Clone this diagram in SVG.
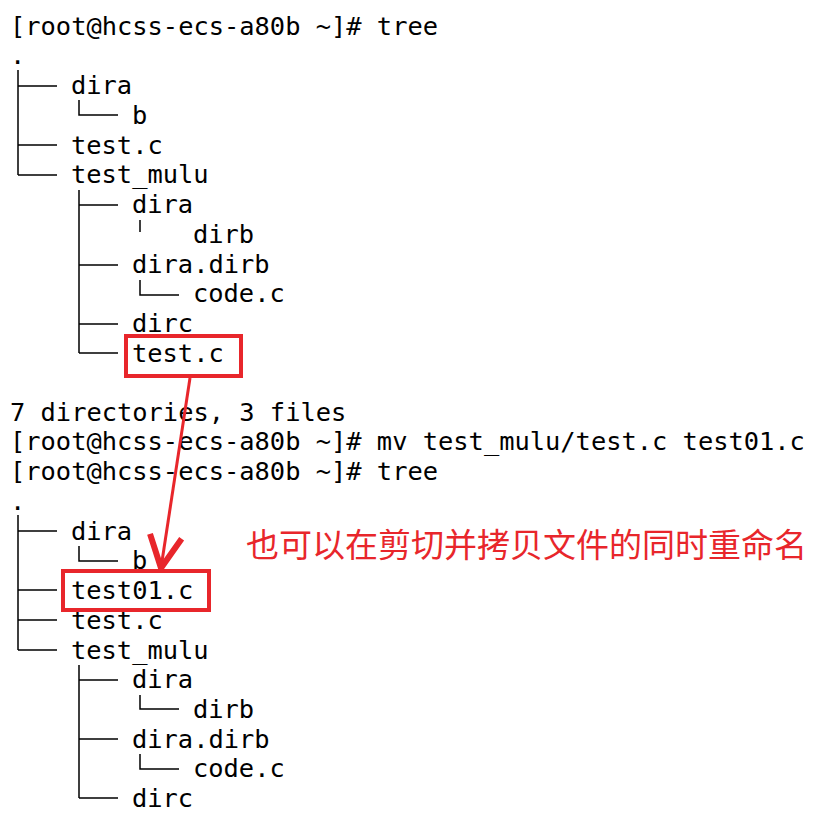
<svg xmlns="http://www.w3.org/2000/svg" width="824" height="818" viewBox="0 0 824 818">
<style>
text.t{font-family:"DejaVu Sans Mono",monospace;font-size:25.4px;fill:#000}
.l{stroke:#000;stroke-width:1.5;fill:none}
.box{stroke:#e8262b;stroke-width:4;fill:none}
</style>
<defs><marker id="ah" markerWidth="40" markerHeight="40" refX="18" refY="10" orient="auto" markerUnits="userSpaceOnUse" viewBox="0 0 20 20"><path d="M2,2 L18,10 L2,18" fill="none" stroke="#e8262b" stroke-width="3"/></marker></defs>
<rect width="824" height="818" fill="#fff"/>
<g id="text1">
<text class="t" x="10" y="35">[root@hcss-ecs-a80b ~]# tree</text>
<text class="t" x="10" y="64">.</text>
<text class="t" x="71" y="94">dira</text>
<text class="t" x="132" y="124">b</text>
<text class="t" x="71" y="154">test.c</text>
<text class="t" x="71" y="183">test_mulu</text>
<text class="t" x="132" y="213">dira</text>
<text class="t" x="193" y="243">dirb</text>
<text class="t" x="132" y="273">dira.dirb</text>
<text class="t" x="193" y="302">code.c</text>
<text class="t" x="132" y="332">dirc</text>
<text class="t" x="132" y="362">test.c</text>
<text class="t" x="10" y="421">7 directories, 3 files</text>
<text class="t" x="10" y="450">[root@hcss-ecs-a80b ~]# mv test_mulu/test.c test01.c</text>
<text class="t" x="10" y="480">[root@hcss-ecs-a80b ~]# tree</text>
<text class="t" x="10" y="510">.</text>
<text class="t" x="71" y="540">dira</text>
<text class="t" x="132" y="569">b</text>
<text class="t" x="71" y="599">test01.c</text>
<text class="t" x="71" y="629">test.c</text>
<text class="t" x="71" y="659">test_mulu</text>
<text class="t" x="132" y="688">dira</text>
<text class="t" x="193" y="718">dirb</text>
<text class="t" x="132" y="748">dira.dirb</text>
<text class="t" x="193" y="777">code.c</text>
<text class="t" x="132" y="807">dirc</text>
</g>
<g id="connectors">
<path class="l" d="M18,70V175M18,86H57M18,145H57M18,175H57M79,100V115H118M79,190V353M79,205H118M79,265H118M79,324H118M79,353H118M140,220V232M140,280V295H179"/>
<path class="l" d="M18,515V650M18,531H57M18,590H57M18,620H57M18,650H57M79,546V561H118M79,665V798M79,680H118M79,739H118M79,798H118M140,695V709H179M140,754V769H179"/>
<path d="M190,378L161,568" stroke="#e8262b" stroke-width="3" fill="none" marker-end="url(#ah)"/>
</g>
<g id="boxes">
<rect class="box" x="126" y="336" width="115" height="40"/>
<rect class="box" x="63" y="571" width="146" height="39"/>
</g>
<text x="246" y="557" font-family="Noto Sans CJK SC,sans-serif" font-size="33" fill="#e8262b">也可以在剪切并拷贝文件的同时重命名</text>
</svg>
